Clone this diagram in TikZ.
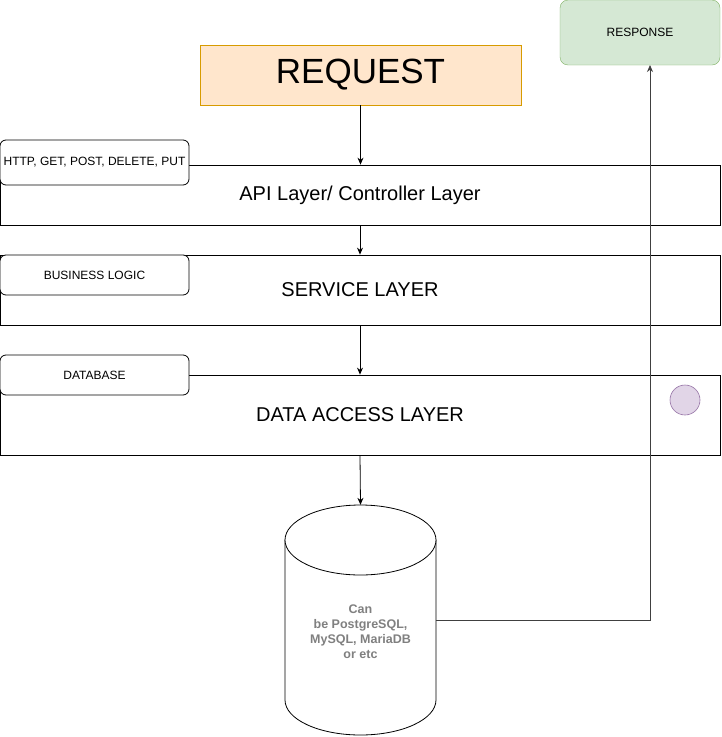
\documentclass[tikz,border=0pt]{standalone}
\usepackage{fontspec}
\setmainfont{Liberation Sans}
\usetikzlibrary{arrows.meta,calc}
\definecolor{reqfill}{HTML}{FFE6CC}
\definecolor{reqdraw}{HTML}{D79B00}
\definecolor{resfill}{HTML}{D5E8D4}
\definecolor{resdraw}{HTML}{82B366}
\definecolor{cfill}{HTML}{E1D5E7}
\definecolor{cdraw}{HTML}{9673A6}
\definecolor{dbtext}{HTML}{808080}
\begin{document}
\begin{tikzpicture}[x=1pt,y=-1pt,
  layer/.style={draw=black,fill=white,line width=0.8pt,minimum width=720pt,inner sep=0pt,font=\fontsize{20}{23}\selectfont},
  tagbox/.style={draw=black,fill=white,rounded corners=6pt,line width=0.8pt,minimum width=189pt,inner sep=0pt,font=\fontsize{12}{14}\selectfont},
  conn/.style={line width=0.8pt,-{Stealth[length=7pt,width=6pt]}}]
\useasboundingbox (0,0) rectangle (721,737);
% request / response
\node[draw=reqdraw,fill=reqfill,minimum width=321pt,minimum height=60pt,inner sep=0pt,font=\fontsize{35}{40}\selectfont] (req) at (360.5,75) {\raisebox{-2pt}{REQUEST}};
\node[draw=resdraw,fill=resfill,rounded corners=8pt,minimum width=160pt,minimum height=65pt,inner sep=0pt,font=\fontsize{12}{14}\selectfont] (res) at (640,32.5) {RESPONSE};
% layers
\node[layer,minimum height=60pt] (api) at (360,195) {\raisebox{-2pt}{API Layer/ Controller Layer}};
\node[layer,minimum height=70pt] (svc) at (360,290) {\raisebox{-2pt}{SERVICE LAYER}};
\node[layer,minimum height=80pt] (dal) at (360,415) {\raisebox{-1pt}{DATA ACCESS LAYER}};
% tags
\node[tagbox,minimum height=45pt] (http) at (94.5,162.5) {HTTP, GET, POST, DELETE, PUT};
\node[tagbox,minimum height=40pt] (biz) at (94.5,275) {BUSINESS LOGIC};
\node[tagbox,minimum height=40pt] (dbtag) at (94.5,375) {DATABASE};
% circle
\node[circle,draw=cdraw,fill=cfill,minimum size=30pt,inner sep=0pt,line width=0.6pt] (dot) at (685,400) {};
% database cylinder
\node[minimum width=151pt,minimum height=230pt,inner sep=0pt] (db) at (360.5,620) {};
\draw[line width=0.8pt,fill=white] (285,540) -- (285,700) arc[start angle=180,end angle=360,x radius=75.5,y radius=-35] -- (436,540) -- cycle;
\draw[line width=0.8pt,fill=white] (360.5,540) ellipse[x radius=75.5,y radius=35];
\node[align=center,text=dbtext,inner sep=0pt,font=\bfseries\fontsize{12.5}{15}\selectfont] (dbl) at (360.5,632) {Can\\be PostgreSQL,\\MySQL, MariaDB\\or etc};
% connectors
\draw[conn] (req.south) -- (req.south |- api.north);
\draw[conn] (api.south) -- (svc.north);
\draw[conn] (svc.south) -- (dal.north);
\draw[conn] (dal.south) -- (db.north);
\coordinate (resin) at (650,65);
\draw[conn,draw=black!75] (db.east) -| (resin);
\end{tikzpicture}
\end{document}
